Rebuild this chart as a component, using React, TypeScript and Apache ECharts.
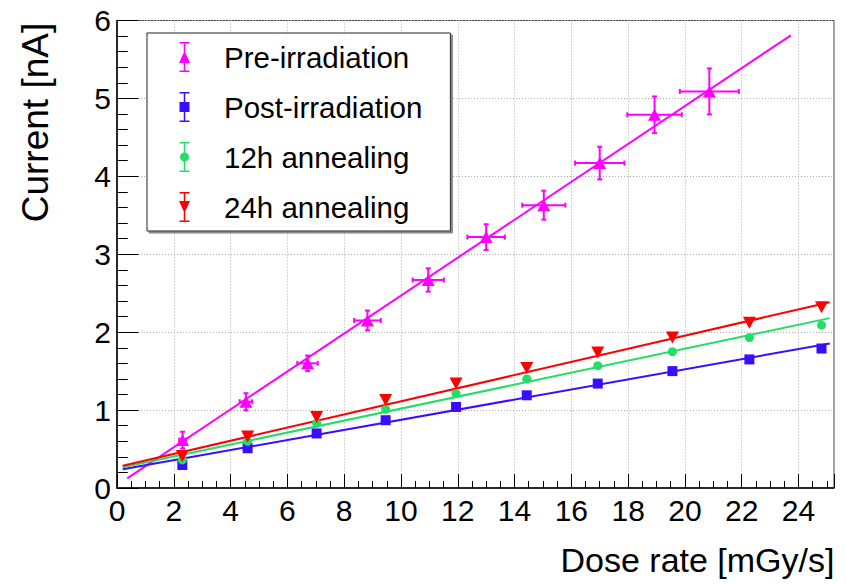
import React, { useEffect, useRef } from "react";
import * as echarts from "echarts";

// ---- data ----
const preX = [2.31, 4.54, 6.71, 8.82, 10.96, 13.0, 15.03, 17.0, 18.93, 20.86];
const preY = [0.615, 1.107, 1.6, 2.15, 2.67, 3.22, 3.63, 4.17, 4.79, 5.09];
const preXErr = [0.12, 0.22, 0.36, 0.47, 0.55, 0.66, 0.76, 0.87, 0.96, 1.04];
const preYErr = [0.107, 0.11, 0.1, 0.128, 0.15, 0.165, 0.186, 0.21, 0.235, 0.295];

const annX = [2.3, 4.6, 7.03, 9.46, 11.94, 14.43, 16.93, 19.56, 22.27, 24.81];
const postY = [0.295, 0.51, 0.7, 0.87, 1.04, 1.19, 1.34, 1.5, 1.65, 1.79];
const h12Y = [0.36, 0.6, 0.83, 1.01, 1.21, 1.4, 1.57, 1.75, 1.93, 2.09];
const h24Y = [0.41, 0.66, 0.91, 1.13, 1.34, 1.54, 1.74, 1.93, 2.12, 2.32];

// fitted straight lines: [start, end] in data units
const preFitX = [0.36, 23.73];
const preFitY = [0.124, 5.81];
const postFitX = [0.2, 25.1];
const postFitY = [0.24, 1.855];
const h12FitX = [0.2, 25.1];
const h12FitY = [0.265, 2.18];
const h24FitX = [0.2, 25.1];
const h24FitY = [0.286, 2.385];

const names = ["Pre-irradiation", "Post-irradiation", "12h annealing", "24h annealing"];
const colors = ["#ff00ff", "#3a0dff", "#22dd66", "#ff0000"];

const xTickMax = 25.25;

const FONT = "Liberation Sans";

const bars = "M0.5,0H10.5V1.5H0.5Z M0.5,28.5H10.5V30H0.5Z M4.75,0H6.25V30H4.75Z ";
const icons = [
  "path://" + bars + "M0,21L5.5,9L11,21Z",
  "path://" + bars + "M0.5,10H10.5V20H0.5Z",
  "path://" + bars + "M1,15A4.5,4.5 0 0 1 10,15A4.5,4.5 0 0 1 1,15Z",
  "path://" + bars + "M0,9L11,9L5.5,21Z",
];

const zip = (xs: number[], ys: number[]) => xs.map((x, i) => [x, ys[i]]);

export default function App() {
  const ref = useRef<HTMLDivElement>(null);
  useEffect(() => {
    if (!ref.current) return;
    const chart = echarts.init(ref.current, null, { renderer: "svg" });

    const errData = preX.map((x, i) => [x, preY[i], preXErr[i], preYErr[i]]);

    const scatterBase = (name: string, color: string, data: number[][], symbol: string, size: any, rotate = 0) => ({
      type: "scatter",
      name,
      data,
      symbol,
      symbolSize: size,
      symbolRotate: rotate,
      itemStyle: { color, opacity: 1 },
      z: 5,
    });
    const fitLine = (name: string, color: string, xs: number[], ys: number[]) => ({
      type: "line",
      name,
      data: zip(xs, ys),
      showSymbol: false,
      symbol: "none",
      lineStyle: { color, width: 2 },
      z: 3,
    });

    chart.setOption({
      animation: false,
      backgroundColor: "#ffffff",
      grid: {
        left: 117,
        right: 12,
        top: 20.5,
        bottom: 96,
        show: true,
        containLabel: false,
        outerBoundsMode: "none",
        borderColor: "#444",
        borderWidth: 1,
        backgroundColor: "transparent",
      },
      legend: {
        left: 147,
        top: 33,
        orient: "vertical",
        itemWidth: 11,
        itemHeight: 30,
        itemGap: 20,
        padding: [9, 28, 9, 32],
        backgroundColor: "#ffffff",
        borderColor: "#222",
        borderWidth: 1,
        shadowColor: "#888",
        shadowOffsetX: 2,
        shadowOffsetY: 2,
        shadowBlur: 0,
        selectedMode: false,
        textStyle: {
          fontFamily: FONT,
          fontSize: 29.5,
          color: "#000",
          lineHeight: 30,
          padding: [0, 0, 0, 29],
        },
        data: names.map((n, i) => ({ name: n, icon: icons[i] })),
      },
      xAxis: {
        type: "value",
        min: 0,
        max: xTickMax,
        interval: 2,
        name: "Dose rate [mGy/s]",
        nameLocation: "middle",
        nameGap: 52,
        nameTextStyle: {
          fontFamily: FONT,
          fontSize: 34,
          color: "#000",
          align: "left",
          verticalAlign: "top",
          lineHeight: 40,
          padding: [0, 0, 0, 85],
        },
        axisLine: { lineStyle: { color: "#000", width: 1.5 } },
        axisTick: { inside: true, length: 14, lineStyle: { color: "#000" } },
        minorTick: { show: true, splitNumber: 4, length: 7, lineStyle: { color: "#000" } },
        splitLine: { show: true, lineStyle: { color: "#aaa", type: [1, 2], width: 1 } },
        axisLabel: { fontFamily: FONT, fontSize: 30, color: "#000", margin: 7, showMaxLabel: false },
      },
      yAxis: {
        type: "value",
        min: 0,
        max: 6,
        interval: 1,
        name: "Current [nA]",
        nameLocation: "middle",
        nameGap: 63,
        nameRotate: 90,
        nameTextStyle: {
          fontFamily: FONT,
          fontSize: 37,
          color: "#000",
          align: "left",
          verticalAlign: "bottom",
          padding: [0, 0, 0, 32],
        },
        axisLine: { lineStyle: { color: "#000", width: 1.5 } },
        axisTick: { inside: true, length: 21.5, lineStyle: { color: "#000" } },
        minorTick: { show: true, splitNumber: 5, length: 10.75, lineStyle: { color: "#000" } },
        splitLine: { show: true, lineStyle: { color: "#aaa", type: [1, 2], width: 1 } },
        axisLabel: { fontFamily: FONT, fontSize: 30, color: "#000", margin: 6 },
      },
      series: [
        fitLine("Pre-irradiation fit", colors[0], preFitX, preFitY),
        fitLine("Post-irradiation fit", colors[1], postFitX, postFitY),
        fitLine("12h annealing fit", colors[2], h12FitX, h12FitY),
        fitLine("24h annealing fit", colors[3], h24FitX, h24FitY),
        {
          type: "custom",
          name: "Pre-irradiation errors",
          data: errData,
          z: 4,
          renderItem: (params: any, api: any) => {
            const x = api.value(0);
            const y = api.value(1);
            const ex = api.value(2);
            const ey = api.value(3);
            const l = api.coord([x - ex, y]);
            const r = api.coord([x + ex, y]);
            const t = api.coord([x, y + ey]);
            const b = api.coord([x, y - ey]);
            const style = { stroke: colors[0], lineWidth: 2 };
            const cap = 2.5;
            return {
              type: "group",
              children: [
                { type: "line", shape: { x1: l[0], y1: l[1], x2: r[0], y2: r[1] }, style },
                { type: "line", shape: { x1: t[0], y1: t[1], x2: b[0], y2: b[1] }, style },
                { type: "line", shape: { x1: t[0] - cap, y1: t[1], x2: t[0] + cap, y2: t[1] }, style },
                { type: "line", shape: { x1: b[0] - cap, y1: b[1], x2: b[0] + cap, y2: b[1] }, style },
                { type: "line", shape: { x1: l[0], y1: l[1] - cap, x2: l[0], y2: l[1] + cap }, style },
                { type: "line", shape: { x1: r[0], y1: r[1] - cap, x2: r[0], y2: r[1] + cap }, style },
              ],
            };
          },
        },
        scatterBase(names[0], colors[0], zip(preX, preY), "triangle", [13, 12]),
        scatterBase(names[1], colors[1], zip(annX, postY), "rect", 10),
        scatterBase(names[2], colors[2], zip(annX, h12Y), "circle", 9),
        scatterBase(names[3], colors[3], zip(annX, h24Y), "triangle", [13, 12], 180),
      ],
    });
    return () => chart.dispose();
  }, []);
  return <div ref={ref} style={{ width: 846, height: 584, position: "absolute", left: 0, top: 0 }} />;
}
